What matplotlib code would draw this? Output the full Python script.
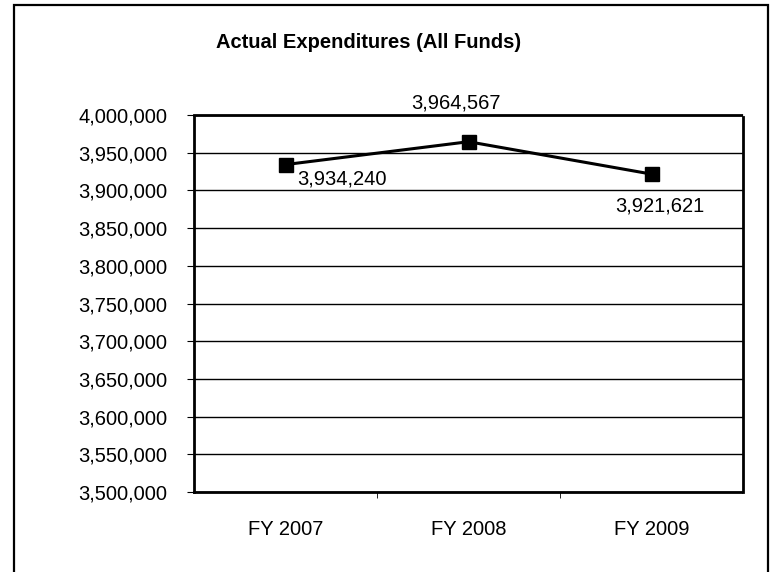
import matplotlib
matplotlib.use("Agg")
from matplotlib import pyplot as plt
from matplotlib.patches import Rectangle

# data
years = ["FY 2007", "FY 2008", "FY 2009"]
expenditures = [3934240, 3964567, 3921621]
# label offsets in pixels (dx, dy) and alignment for each point label
label_offsets = [(12, -14), (-13, 39), (8, -32)]
label_ha = ["left", "center", "center"]

plt.rcParams["font.family"] = ["Liberation Sans", "DejaVu Sans"]
fs = 14.5

fig = plt.figure(figsize=(7.71, 5.72), dpi=100)

# outer chart frame (bottom runs off the page)
fig.patches.append(Rectangle((14 / 771, -0.05), (768 - 14) / 771, 1.05 - 5 / 572,
                             transform=fig.transFigure, fill=False,
                             edgecolor="black", linewidth=1.6))

ax = fig.add_axes([194 / 771, 1 - 492 / 572, (743 - 194) / 771, (492 - 115) / 572])

x = list(range(len(years)))
ax.plot(x, expenditures, color="black", linewidth=2.2, marker="s",
        markersize=10, markerfacecolor="black", zorder=3)

for i, val in enumerate(expenditures):
    ax.annotate(f"{val:,}", (x[i], val), xytext=label_offsets[i],
                textcoords="offset pixels", ha=label_ha[i], va="center",
                fontsize=fs, annotation_clip=False)

ax.set_xlim(-0.5, 2.5)
ax.set_ylim(3500000, 4000000)
ax.set_yticks(range(3500000, 4000001, 50000))
ax.set_yticklabels([f"{v:,}" for v in range(3500000, 4000001, 50000)], fontsize=fs)
ax.yaxis.grid(True, color="black", linewidth=1)
ax.set_axisbelow(True)

ax.set_xticks(x)
ax.set_xticklabels(years, fontsize=fs)
ax.set_xticks([0.5, 1.5], minor=True)
ax.tick_params(axis="x", which="major", length=0, pad=20)
ax.tick_params(axis="x", which="minor", length=4, direction="out")
ax.tick_params(axis="y", length=5, direction="out", pad=14)

for s in ax.spines.values():
    s.set_linestyle((0, (1, 1)))
    s.set_linewidth(2)
    s.set_color("black")

fig.text(369 / 771, 1 - 43 / 572, "Actual Expenditures (All Funds)", ha="center",
         va="center", fontsize=fs, fontweight="bold")

fig.savefig("out.png", dpi=100)
